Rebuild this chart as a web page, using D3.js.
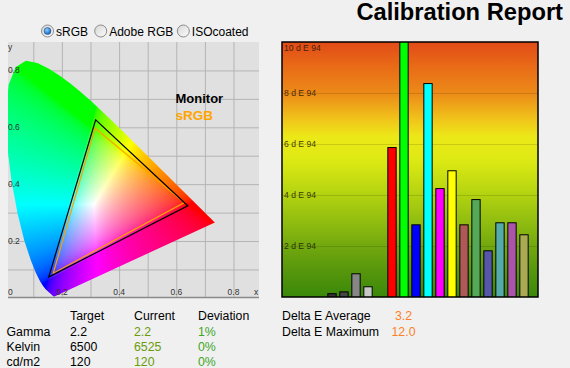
<!DOCTYPE html>
<html><head><meta charset="utf-8">
<script src="https://cdn.jsdelivr.net/npm/d3@7"></script>
<style>
html,body{margin:0;padding:0;background:#f0f0f0;}
svg{display:block;font-family:Arial,"Liberation Sans",sans-serif;}
</style></head>
<body>
<svg id="c" width="570" height="368"></svg>
<script>
// ---------------- data ----------------
const gamutOptions = ["sRGB", "Adobe RGB", "ISOcoated"];
const selectedGamut = "sRGB";

// CIE 1931 spectral locus (x, y)
const locusX = [0.1741,0.1733,0.1726,0.1714,0.1689,0.1644,0.1566,0.1440,0.1355,0.1241,0.1096,0.0913,0.0687,0.0454,0.0235,0.0082,0.0039,0.0139,0.0389,0.0743,0.1142,0.1547,0.1929,0.2296,0.2658,0.3016,0.3373,0.3731,0.4087,0.4441,0.4788,0.5125,0.5448,0.5752,0.6029,0.6270,0.6482,0.6658,0.6915,0.7079,0.7190,0.7260,0.7300,0.7334,0.7347];
const locusY = [0.0050,0.0048,0.0048,0.0051,0.0069,0.0109,0.0177,0.0297,0.0399,0.0578,0.0868,0.1327,0.2007,0.2950,0.4127,0.5384,0.6548,0.7502,0.8120,0.8338,0.8262,0.8059,0.7816,0.7543,0.7243,0.6923,0.6589,0.6245,0.5896,0.5547,0.5202,0.4866,0.4544,0.4242,0.3965,0.3725,0.3514,0.3340,0.3083,0.2920,0.2809,0.2740,0.2700,0.2666,0.2653];

const monitorX = [0.640, 0.318, 0.154];
const monitorY = [0.324, 0.626, 0.0735];
const srgbX = [0.628, 0.316, 0.170];
const srgbY = [0.335, 0.597, 0.087];

const chromaTicks = [0.2, 0.4, 0.6, 0.8];
const chromaGrid = [0.1,0.2,0.3,0.4,0.5,0.6,0.7,0.8];

const categories = ["Gray 1","Gray 2","Gray 3","Gray 4","","Red","Green","Blue","Cyan","Magenta","Yellow","Patch 11","Patch 12","Patch 13","Patch 14","Patch 15","Patch 16"];
const deltaE = [0.15,0.22,0.93,0.42,null,5.88,12.0,2.85,8.39,4.27,4.97,2.85,3.84,1.83,2.93,2.93,2.46];
const barColors = ["#333333","#464646","#868686","#c8c8c8",null,"#ff0000","#00ff00","#0000ff","#00ffff","#ff00ff","#ffff00","#ae5858","#55a855","#5656aa","#55aaaa","#aa55aa","#aaaa55"];
const deTicks = [2,4,6,8,10];

const tableHeader = ["Target","Current","Deviation"];
const rowLabels = ["Gamma","Kelvin","cd/m2"];
const targetVals = ["2.2","6500","120"];
const currentVals = ["2.2","6525","120"];
const deviationVals = ["1%","0%","0%"];
const summaryLabels = ["Delta E Average","Delta E Maximum"];
const summaryVals = ["3.2","12.0"];

// ---------------- drawing ----------------
const svg = d3.select("#c");
const defs = svg.append("defs");

// Title
svg.append("text").attr("x",563).attr("y",19.5).attr("text-anchor","end")
  .attr("font-size",23.7).attr("font-weight","bold").attr("fill","#000")
  .text("Calibration Report");

// Radio buttons
const rg = defs.append("linearGradient").attr("id","rb").attr("x1",0).attr("y1",0).attr("x2",1).attr("y2",1);
rg.append("stop").attr("offset",0).attr("stop-color","#d8d8d8");
rg.append("stop").attr("offset",1).attr("stop-color","#fbfbfb");
const rd = defs.append("radialGradient").attr("id","rdot").attr("cx",0.4).attr("cy",0.35).attr("r",0.7);
rd.append("stop").attr("offset",0).attr("stop-color","#8fd0ff");
rd.append("stop").attr("offset",1).attr("stop-color","#0b58b4");
const radioPos = {"sRGB":47.5,"Adobe RGB":100.7,"ISOcoated":183.3};
gamutOptions.forEach(o=>{
  const cx = radioPos[o];
  svg.append("circle").attr("cx",cx).attr("cy",31).attr("r",6).attr("fill","url(#rb)").attr("stroke","#8c8c8c");
  if(o===selectedGamut) svg.append("circle").attr("cx",cx).attr("cy",31).attr("r",3.5).attr("fill","url(#rdot)").attr("stroke","#1b4d86").attr("stroke-width",0.5);
  svg.append("text").attr("x",cx+8.5).attr("y",35.5).attr("font-size",12)
    .attr("font-family","'Liberation Sans Narrow','Arial Narrow',sans-serif").attr("fill","#000").text(o);
});

// ---- Chromaticity plot ----
const P = {l:8, r:259, t:42, b:297};
const xs = d3.scaleLinear().domain([0,0.9]).range([4.7,262.1]);
const ys = d3.scaleLinear().domain([0,0.9]).range([297.9,42]);

defs.append("clipPath").attr("id","pclip").append("rect")
  .attr("x",P.l).attr("y",P.t).attr("width",P.r-P.l).attr("height",P.b-P.t);
const locusPts = locusX.map((x,i)=>[xs(x),ys(locusY[i])]);
defs.append("clipPath").attr("id","lclip").append("path")
  .attr("d", d3.line()(locusPts)+"Z");

const cg = svg.append("g");
cg.append("rect").attr("x",P.l).attr("y",P.t).attr("width",P.r-P.l).attr("height",P.b-P.t).attr("fill","#e0e0e0");
const gridG = cg.append("g").attr("clip-path","url(#pclip)");
gridG.selectAll("line.v").data(chromaGrid).join("line")
  .attr("x1",d=>xs(d)+0.5).attr("x2",d=>xs(d)+0.5).attr("y1",P.t).attr("y2",P.b)
  .attr("stroke","#b4b4b4").attr("stroke-width",1);
gridG.selectAll("line.h").data(chromaGrid).join("line")
  .attr("y1",d=>ys(d)+0.5).attr("y2",d=>ys(d)+0.5).attr("x1",P.l).attr("x2",P.r)
  .attr("stroke","#b4b4b4").attr("stroke-width",1);

// color fill
const W = P.r-P.l, H = P.b-P.t;
const cv = document.createElement("canvas"); cv.width=W; cv.height=H;
const ctx = cv.getContext("2d");
const img = ctx.createImageData(W,H);
const enc = c => c<=0.0031308 ? 12.92*c : 1.055*Math.pow(c,1/2.4)-0.055;
for(let j=0;j<H;j++){
  for(let i=0;i<W;i++){
    const x = xs.invert(P.l+i+0.5), y = ys.invert(P.t+j+0.5);
    const k=(j*W+i)*4;
    if(y<=0.001){ img.data[k+3]=0; continue; }
    const X=x/y, Y=1, Z=(1-x-y)/y;
    let r= 3.2406*X-1.5372*Y-0.4986*Z;
    let g=-0.9689*X+1.8758*Y+0.0415*Z;
    let b= 0.0557*X-0.2040*Y+1.0570*Z;
    r=Math.max(0,r); g=Math.max(0,g); b=Math.max(0,b);
    const m=Math.max(r,g,b)||1;
    img.data[k]=Math.round(255*enc(r/m));
    img.data[k+1]=Math.round(255*enc(g/m));
    img.data[k+2]=Math.round(255*enc(b/m));
    img.data[k+3]=255;
  }
}
ctx.putImageData(img,0,0);
const fillG = cg.append("g").attr("clip-path","url(#pclip)");
fillG.append("image").attr("href",cv.toDataURL()).attr("x",P.l).attr("y",P.t)
  .attr("width",W).attr("height",H).attr("clip-path","url(#lclip)");

// bottom axis line
cg.append("line").attr("x1",P.l).attr("x2",P.r).attr("y1",P.b+0.5).attr("y2",P.b+0.5)
  .attr("stroke","#8a8a8a").attr("stroke-width",1.5);

// triangles
const tri = (X,Y)=> d3.line()(X.map((x,i)=>[xs(x),ys(Y[i])]))+"Z";
cg.append("path").attr("d",tri(srgbX,srgbY)).attr("fill","none").attr("stroke","#ffa000").attr("stroke-width",1.2);
cg.append("path").attr("d",tri(monitorX,monitorY)).attr("fill","none").attr("stroke","#000").attr("stroke-width",1.2);

// axis labels
const lab = cg.append("g").attr("font-size",8.5).attr("fill","#333");
lab.selectAll("text.y").data(chromaTicks).join("text")
  .attr("x",P.l).attr("y",d=>ys(d)+3).text(d=>d3.format(".1f")(d));
lab.selectAll("text.x").data(chromaTicks).join("text")
  .attr("x",d=>xs(d)).attr("y",295).attr("text-anchor","middle").text(d=>d3.format(".1f")(d));
lab.append("text").attr("x",P.l).attr("y",295).text("0");
lab.append("text").attr("x",P.l).attr("y",50).text("y");
lab.append("text").attr("x",254).attr("y",295).text("x");

// legend
svg.append("text").attr("x",175.5).attr("y",103).attr("font-size",13).attr("font-weight","bold").attr("fill","#000").text("Monitor");
svg.append("text").attr("x",175.5).attr("y",120).attr("font-size",13.5).attr("font-weight","bold").attr("fill","#ffa500").text("sRGB");

// ---- Delta E bar chart ----
const B = {l:282, r:538, t:42, b:297};
const yb = d3.scaleLinear().domain([0,10]).range([B.b,B.t]);
const xb = d3.scaleBand().domain(categories).range([327.33, 327.33+12*(categories.length-0.222)]).paddingInner(0.222).paddingOuter(0);

const grad = defs.append("linearGradient").attr("id","bg").attr("gradientUnits","userSpaceOnUse")
  .attr("x1",0).attr("x2",0).attr("y1",yb(10)).attr("y2",yb(0));
const gstops = [[10,"#e14b17"],[9,"#e96c17"],[8,"#ec8a18"],[7,"#f0c21a"],[6.3,"#ece818"],[5.5,"#e0ea14"],[5,"#d2e412"],[4,"#b2d210"],[3,"#92be10"],[2,"#72a80e"],[1,"#56960c"],[0,"#3a880a"]];
gstops.forEach(([v,c])=>grad.append("stop").attr("offset",(10-v)/10).attr("stop-color",c));

defs.append("clipPath").attr("id","bclip").append("rect").attr("x",B.l).attr("y",B.t).attr("width",B.r-B.l).attr("height",B.b-B.t);
const bg = svg.append("g");
bg.append("rect").attr("x",B.l).attr("y",B.t).attr("width",B.r-B.l).attr("height",B.b-B.t).attr("fill","url(#bg)");
bg.selectAll("line.g").data(deTicks.filter(d=>d<10)).join("line")
  .attr("x1",B.l).attr("x2",B.r).attr("y1",d=>Math.round(yb(d))+0.5).attr("y2",d=>Math.round(yb(d))+0.5)
  .attr("stroke","rgba(0,0,0,0.13)").attr("stroke-width",1);
bg.selectAll("text.t").data(deTicks).join("text")
  .attr("x",284).attr("y",d=>Math.max(yb(d),B.t+5.5)+3)
  .attr("font-size",8.6).attr("fill","rgba(25,18,0,0.82)").text(d=>d+" d E 94");

const barsG = bg.append("g").attr("clip-path","url(#bclip)");
const barData = categories.map((c,i)=>({c, v:deltaE[i], col:barColors[i]})).filter(d=>d.v!=null);
barsG.selectAll("rect.bar").data(barData).join("rect")
  .attr("x",d=>xb(d.c)+0.5).attr("width",xb.bandwidth()-1)
  .attr("y",d=>yb(d.v)+0.5).attr("height",d=>B.b-yb(d.v))
  .attr("fill",d=>d.col).attr("stroke","#000").attr("stroke-width",1);

bg.append("rect").attr("x",B.l).attr("y",B.t).attr("width",B.r-B.l).attr("height",B.b-B.t)
  .attr("fill","none").attr("stroke","#000").attr("stroke-width",1.5);

// ---- bottom tables ----
const tcols = [70,134,198];
const rowsY = [320,335.5,350.5,365.5];
const tg = svg.append("g").attr("font-size",12.3).attr("fill","#000");
tableHeader.forEach((h,i)=>tg.append("text").attr("x",tcols[i]).attr("y",rowsY[0]).text(h));
rowLabels.forEach((r,i)=>{
  tg.append("text").attr("x",6.5).attr("y",rowsY[i+1]).text(r);
  tg.append("text").attr("x",tcols[0]).attr("y",rowsY[i+1]).text(targetVals[i]);
  tg.append("text").attr("x",tcols[1]).attr("y",rowsY[i+1]).attr("fill","#6a9c0a").text(currentVals[i]);
  tg.append("text").attr("x",tcols[2]).attr("y",rowsY[i+1]).attr("fill","#3ea626").text(deviationVals[i]);
});
summaryLabels.forEach((s,i)=>{
  tg.append("text").attr("x",282).attr("y",rowsY[i]).text(s);
  tg.append("text").attr("x",403.5).attr("y",rowsY[i]).attr("text-anchor","middle").attr("fill","#ff7f27").text(summaryVals[i]);
});
</script>
</body></html>
